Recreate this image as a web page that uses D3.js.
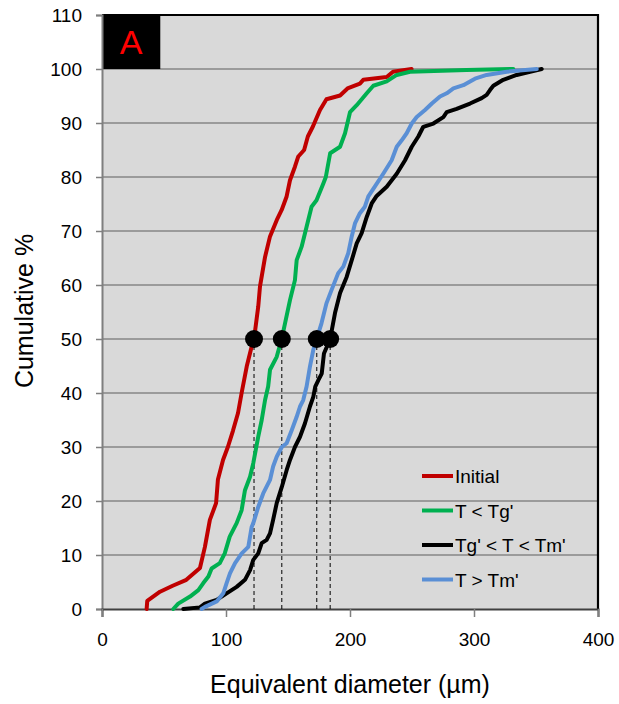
<!DOCTYPE html>
<html><head><meta charset="utf-8">
<script src="https://cdn.jsdelivr.net/npm/d3@7"></script>
<style>body{margin:0;background:#fff;}svg{display:block;font-family:"Liberation Sans",Arial,sans-serif;}</style>
</head><body>
<svg id="chart" width="619" height="704"></svg>
<script>
const seriesNames = ["Initial", "T < Tg'", "Tg' < T < Tm'", "T > Tm'"];
const seriesColors = ["#C00000", "#00B050", "#000000", "#5A8FD5"];

const initialD = [36,36.5,46.8,57,68,79,83,87,92,93.5,97.6,101.5,105.6,109.7,112.6,116.7,120.7,122.6,126,127.4,131.5,135.5,140.9,144.9,148.9,151.6,155.6,158.3,163,166,170,175.8,181,192,198,208,210.7,229.6,234.7,249.7];
const initialC = [0,1.5,3.2,4.3,5.4,7.6,11.5,16.5,19.6,24,27.6,30,33,36.3,40,44.9,48.6,50,56,59.7,65.2,69,72,73.9,76.4,79.4,81.9,83.8,85,87.5,89.3,92.4,94.4,95.1,96.4,97.3,98,98.5,99.5,100];

const belowTgD = [57.5,61.5,71,77.7,81.7,85.8,88.4,95,99,103,108.6,112.6,115.3,119.4,122,126,128.8,131.5,134,135.5,140.9,144.9,147.6,151.6,155.6,157,161,165,169,173,178.5,180.5,184,192,196,200,205.4,213.5,218.8,229.6,237.7,248.4,294,331.7];
const belowTgC = [0,1,2.3,3.5,4.8,6,7.5,8.5,10.3,13.4,15.9,18.3,22,24.5,27,31.9,35,38.7,41.2,44.3,46.7,50,52.9,57.2,60.9,64.6,67.1,70.8,74.5,75.7,78.8,80,84.4,85.6,88.1,92,93.3,95.5,96.9,97.7,98.9,99.5,99.8,100];

const betweenD = [65.6,79,83,92.5,100.5,108.6,115.3,119.4,122,126,128.8,132.8,135.5,138,140.9,145,148.9,151.6,155.6,159.7,163.7,167.7,170.4,172,174.5,177.2,179,184,187.9,192,197.3,201.4,205.4,209.4,213.5,217.5,221.5,229.6,237.7,244.4,249.8,255.1,259.1,267.2,275.3,278,286,296.8,306.2,310.2,312.9,315.6,323.6,334.4,345.2,354.6];
const betweenC = [0,0.3,1,1.7,2.9,4.1,5.4,7.2,9.1,10.3,12.2,12.8,14,16.5,19.6,22.6,25.7,27.6,30,31.9,34.4,37.5,39.3,41.2,42.4,43.6,47.3,50,54.8,58.5,61.5,64.6,67.7,69.6,72.6,75.1,76.5,78.2,80.6,83.1,85.6,87.5,89.3,89.9,91.1,92,92.6,93.6,94.6,95.2,96.1,96.9,98,98.9,99.5,100];

const aboveTmD = [80.3,83,92.5,97.8,100.5,103.2,107.3,112.7,118,120.7,122,126,130,135.5,138,140.9,145,148.9,153,157,159.7,162.3,165,167.7,170.4,173.1,177,181,185,190.5,194.6,198.6,201.4,204,208,212,214.8,220,226.8,233.6,237.7,241.7,245.7,249.8,253.8,260.5,266,272.6,278,283.4,291.4,296.8,300.8,310.2,326.4,350.6];
const aboveTmC = [0,0.4,1.4,2.9,4.8,6.6,8.5,10.3,11.5,15.2,15.9,18.9,21.4,23.9,26.4,28.2,30,30.7,33.1,35.6,37.5,38.7,41.2,44.9,48,50,52.9,56.6,59,62.2,63.4,65.9,69,71.4,73.3,74.5,76.4,78.2,80.6,83.1,85.6,86.8,88.1,89.9,91.1,92.4,93.6,94.9,95.5,96.4,97,97.7,98.2,98.9,99.5,100];

const medianD = [122.6, 145, 173.2, 184];
const medianC = [50, 50, 50, 50];

const xTicks = [0, 100, 200, 300, 400];
const yTicks = [0, 10, 20, 30, 40, 50, 60, 70, 80, 90, 100, 110];
const panelLabel = "A";
const xTitle = "Equivalent diameter (µm)";
const yTitle = "Cumulative %";

const svg = d3.select("#chart");
const L = 102, R = 598, T = 15, B = 609;
const x = d3.scaleLinear().domain([0, 400]).range([L, R]);
const y = d3.scaleLinear().domain([0, 110]).range([B, T]);

svg.append("rect").attr("x", L).attr("y", T).attr("width", R - L).attr("height", B - T).attr("fill", "#D9D9D9");

svg.append("g").selectAll("line").data(yTicks.filter(v => v > 0 && v < 110)).join("line")
  .attr("x1", L).attr("x2", R).attr("y1", d => y(d)).attr("y2", d => y(d))
  .attr("stroke", "#868686").attr("stroke-width", 1.5);

svg.append("rect").attr("x", L).attr("y", T).attr("width", x(47) - L).attr("height", y(100) - T).attr("fill", "#000");
svg.append("text").attr("x", (L + x(47)) / 2).attr("y", 54).attr("text-anchor", "middle")
  .attr("font-size", 34).attr("fill", "#FF0000").text(panelLabel);

svg.append("path").attr("d", `M${L},${T}H${R}V${B}`).attr("fill", "none").attr("stroke", "#000").attr("stroke-width", 2.2);

const yAxis = svg.append("g").attr("transform", `translate(${L},0)`)
  .call(d3.axisLeft(y).tickValues(yTicks).tickSize(6).tickPadding(14).tickFormat(d3.format("d")));
yAxis.select(".domain").attr("stroke", "#7F7F7F").attr("stroke-width", 2);
yAxis.selectAll(".tick line").attr("stroke", "#7F7F7F").attr("stroke-width", 1.5);
yAxis.selectAll(".tick text").attr("font-size", 19).attr("fill", "#000").attr("font-family", "Liberation Sans, Arial, sans-serif");

const xAxis = svg.append("g").attr("transform", `translate(0,${B})`)
  .call(d3.axisBottom(x).tickValues(xTicks).tickSize(8).tickPadding(16).tickFormat(d3.format("d")));
xAxis.select(".domain").attr("stroke", "#404040").attr("stroke-width", 2);
xAxis.selectAll(".tick line").attr("stroke", "#7F7F7F").attr("stroke-width", 1.5);
xAxis.selectAll(".tick text").attr("font-size", 19).attr("fill", "#000").attr("font-family", "Liberation Sans, Arial, sans-serif");

svg.append("g").selectAll("line").data(medianD).join("line")
  .attr("x1", d => x(d)).attr("x2", d => x(d)).attr("y1", (d, i) => y(medianC[i])).attr("y2", y(0))
  .attr("stroke", "#000").attr("stroke-width", 1).attr("stroke-dasharray", "4,3");

const series = [[initialD, initialC], [belowTgD, belowTgC], [betweenD, betweenC], [aboveTmD, aboveTmC]];
const line = d3.line().x(d => x(d[0])).y(d => y(d[1]));
series.forEach((s, i) => {
  const pts = s[0].map((v, j) => [v, s[1][j]]);
  svg.append("path").datum(pts).attr("d", line).attr("fill", "none")
    .attr("stroke", seriesColors[i]).attr("stroke-width", 4)
    .attr("stroke-linejoin", "round").attr("stroke-linecap", "round");
});

svg.append("g").selectAll("circle").data(medianD).join("circle")
  .attr("cx", d => x(d)).attr("cy", (d, i) => y(medianC[i])).attr("r", 9).attr("fill", "#000");

const lg = svg.append("g");
seriesNames.forEach((n, i) => {
  const yy = 476 + i * 34.5;
  lg.append("line").attr("x1", 422).attr("x2", 453).attr("y1", yy).attr("y2", yy)
    .attr("stroke", seriesColors[i]).attr("stroke-width", 4);
  lg.append("text").attr("x", 455).attr("y", yy + 7).attr("font-size", 19).attr("fill", "#000").text(n);
});

svg.append("text").attr("x", (L + R) / 2).attr("y", 693).attr("text-anchor", "middle")
  .attr("font-size", 25).attr("fill", "#000").text(xTitle);
svg.append("text").attr("transform", `translate(33,311) rotate(-90)`).attr("text-anchor", "middle")
  .attr("font-size", 25).attr("fill", "#000").text(yTitle);
</script>
</body></html>
